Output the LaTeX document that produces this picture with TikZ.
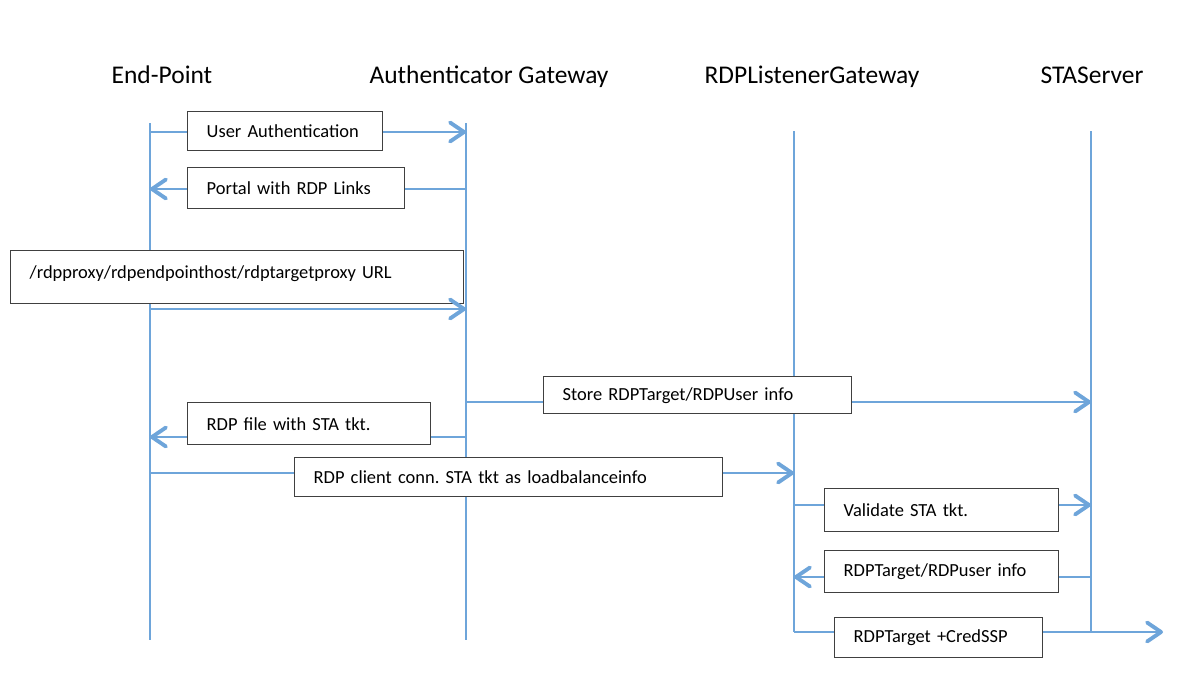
\documentclass[tikz,border=0pt]{standalone}
\usepackage{fontspec}
\setmainfont{Carlito}
\usetikzlibrary{arrows.meta}
\definecolor{lineblue}{RGB}{110,165,218}
\frenchspacing

\begin{document}
\begin{tikzpicture}[x=0.02cm, y=-0.02cm,
  actor/.style={font=\fontsize{14.5}{17}\selectfont, anchor=base},
  life/.style={line width=0.8pt, draw=lineblue},
  msg/.style={line width=0.9pt, draw=lineblue},
  arr/.style={-{Straight Barb[length=0.28cm, width=0.38cm, line width=2.2pt, round]}},
  note/.style={draw=black!75, fill=white, line width=0.8pt, anchor=north west,
    align=left, inner xsep=0.38cm, font=\fontsize{10.5}{12.5}\selectfont, text width=#1}]
\useasboundingbox (0,0) rectangle (1181,681);
% participants
\node[actor] (ep) at (162,83) {End-Point};
\node[actor] (ag) at (489,83) {Authenticator Gateway};
\node[actor] (rl) at (812,83) {RDPListenerGateway};
\node[actor] (sta) at (1092,83) {STAServer};
% lifelines
\coordinate (ep-t) at (150,123);
\coordinate (ep-b) at (150,640);
\coordinate (ag-t) at (466,123);
\coordinate (ag-b) at (466,640);
\coordinate (rl-t) at (794,131);
\coordinate (rl-b) at (794,632);
\coordinate (sta-t) at (1091,131);
\coordinate (sta-b) at (1091,632);
\coordinate (out) at (1163,632);
\draw[life] (ep-t) -- (ep-b);
\draw[life] (ag-t) -- (ag-b);
\draw[life] (rl-t) -- (rl-b);
\draw[life] (sta-t) -- (sta-b);
% login and portal
\draw[msg, arr] (ep-t |- 0,132) -- (ag-t |- 0,132);
\node[note=3.14cm, minimum height=0.78cm] (auth) at (187,111) {User Authentication};
\draw[msg, arr] (ag-t |- 0,189) -- (ep-t |- 0,189);
\node[note=3.58cm, minimum height=0.82cm] (portal) at (187,167) {Portal with RDP Links};
% proxy url request
\node[note=8.30cm, inner ysep=0.2cm, text height=0.36cm, text depth=0.30cm] (url) at (10,250)
  {/rdpproxy/rdpendpointhost/rdptargetproxy URL};
\draw[msg, arr] (ep-t |- 0,309) -- (ag-t |- 0,309);
% ticket handling
\draw[msg, arr] (ag-t |- 0,402) -- (sta-t |- 0,402);
\node[note=5.40cm, minimum height=0.74cm] (store) at (543,376) {Store RDPTarget/RDPUser info};
\draw[msg, arr] (ag-t |- 0,437) -- (ep-t |- 0,437);
\node[note=4.10cm, minimum height=0.84cm] (file) at (187,402) {RDP file with STA tkt.};
\draw[msg, arr] (ep-t |- 0,473) -- (rl-t |- 0,473);
\node[note=7.80cm, minimum height=0.78cm] (conn) at (294,457) {RDP client conn. STA tkt as loadbalanceinfo};
% validation and forwarding
\draw[msg, arr] (rl-t |- 0,505) -- (sta-t |- 0,505);
\node[note=3.92cm, minimum height=0.86cm] (valid) at (824,488) {Validate STA tkt.};
\draw[msg, arr] (sta-t |- 0,577) -- (rl-t |- 0,577);
\node[note=3.92cm, minimum height=0.84cm] (info) at (824,550) {RDPTarget/RDPuser info};
\draw[msg, arr] (rl-b) -- (out);
\node[note=3.40cm, minimum height=0.80cm] (cred) at (834,617) {RDPTarget +CredSSP};
\end{tikzpicture}
\end{document}
